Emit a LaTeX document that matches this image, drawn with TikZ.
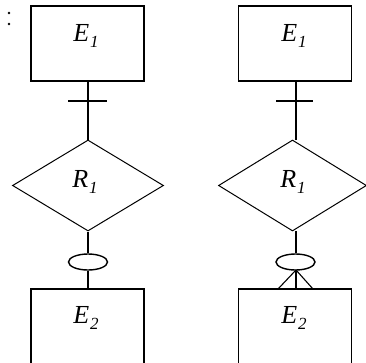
\documentclass[tikz,border=0pt]{standalone}
\usepackage{fontspec}
\setmainfont{Liberation Serif}
\usetikzlibrary{shapes.geometric}
\tikzset{
  entity/.style={draw, line width=1.5pt, minimum width=113pt, minimum height=75pt, inner sep=0pt},
  entitylow/.style={draw, line width=1.5pt, minimum width=113pt, minimum height=85pt, inner sep=0pt},
  rel/.style={draw, diamond, line width=1pt, inner sep=0pt},
  oval/.style={draw, ellipse, line width=1.4pt, minimum width=39pt, minimum height=16pt, inner sep=0pt},
  conn/.style={line width=1.1pt},
  lbl/.style={font=\fontsize{26}{30}\selectfont\itshape, inner sep=0pt},
  dot/.style={circle, fill=black, minimum size=2.8pt, inner sep=0pt}
}
\newcommand{\subone}[1]{\kern1pt\raisebox{-6pt}{\fontsize{17}{20}\selectfont #1}}
\begin{document}
\begin{tikzpicture}[x=1pt,y=-1pt]
\useasboundingbox (0,0) rectangle (366,362);
\clip (0,0) rectangle (366,362);
% colon
\node[dot] (d1) at (9,13) {};
\node[dot] (d2) at (9,24) {};
% ---------- left ----------
\node[entity] (ea) at (87.5,43.5) {};
\node[lbl] (ta) at (86,36) {E\subone{1}};
\node[rel, minimum width=151pt, minimum height=91pt] (ra) at (88,185.5) {};
\node[lbl] (tra) at (85,182) {R\subone{1}};
\node[oval] (oa) at (88,262) {};
\node[entitylow] (fa) at (87.5,331.5) {};
\node[lbl] (tfa) at (86,318) {E\subone{2}};
\draw[conn] (ea.south -| ra.north) -- (ra.north);
\coordinate (ka) at (88,101);
\draw[conn] ([xshift=-20pt]ka) -- ([xshift=19pt]ka);
\draw[conn] (ra.south) -- (oa.north);
\draw[conn] (oa.south) -- (fa.north -| oa.south);
% ---------- right ----------
\node[entity] (eb) at (295,43.5) {};
\node[lbl] (tb) at (294,36) {E\subone{1}};
\node[rel, minimum width=148pt, minimum height=91pt] (rb) at (292.5,185.5) {};
\node[lbl] (trb) at (293,182) {R\subone{1}};
\coordinate (topb) at (296,140);
\coordinate (botb) at (296,231);
\node[oval] (ob) at (295.5,262) {};
\node[entitylow] (fb) at (295,331.5) {};
\node[lbl] (tfb) at (294,318) {E\subone{2}};
\draw[conn] (296,81) -- (topb);
\coordinate (kb) at (296,101);
\draw[conn] ([xshift=-20pt]kb) -- ([xshift=17pt]kb);
\draw[conn] (botb) -- (ob.north -| botb);
\coordinate (cf) at (296,270);
\draw[conn] (cf) -- (296,289);
\draw[conn] (cf) -- (278,289);
\draw[conn] (cf) -- (313,289);
\end{tikzpicture}
\end{document}
